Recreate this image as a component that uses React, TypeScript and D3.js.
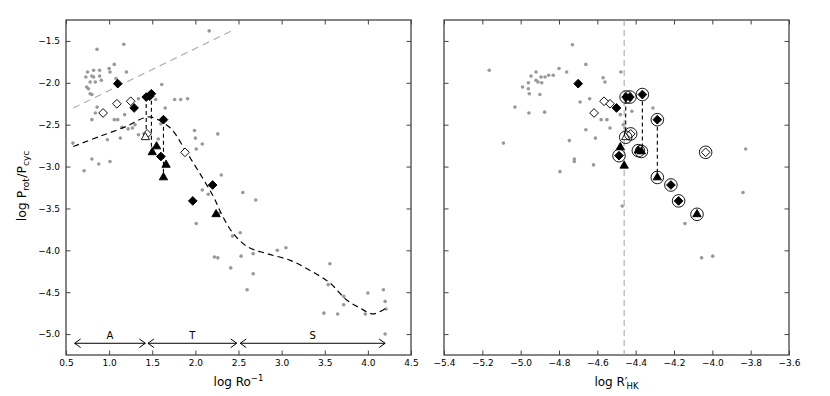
import { useEffect, useRef } from "react";
import * as d3 from "d3";

// grey background sample, left panel: [log Ro^-1, log Prot/Pcyc]
const bgLeft: [number, number][] = [
  [2.16, -1.38], [0.86, -1.6], [1.17, -1.54], [1.06, -1.78], [1.0, -1.83], [1.01, -1.87], [1.2, -1.87],
  [0.89, -1.85], [0.82, -1.85], [0.75, -1.87], [0.73, -1.93], [0.8, -1.92], [0.82, -1.93], [0.89, -1.92],
  [0.78, -1.99], [0.84, -1.99], [0.91, -1.97], [0.74, -2.05], [0.76, -2.07], [0.78, -2.13], [0.8, -2.14],
  [1.08, -1.95], [1.61, -2.02], [1.76, -2.2], [1.83, -2.2], [1.91, -2.19], [1.65, -2.3], [0.86, -2.29],
  [0.84, -2.36], [0.8, -2.44], [1.06, -2.44], [1.1, -2.44], [1.18, -2.38], [1.34, -2.19], [1.15, -2.53],
  [1.22, -2.55], [1.27, -2.54], [1.3, -2.5], [1.34, -2.62], [1.13, -2.66], [0.98, -2.68], [1.57, -2.67],
  [1.6, -2.49], [0.58, -2.72], [0.71, -3.05], [0.8, -2.91], [0.88, -2.97], [1.01, -2.94], [1.99, -2.57],
  [2.0, -2.66], [2.01, -2.79], [2.08, -2.73], [2.26, -2.61], [2.3, -3.1], [2.08, -3.28], [2.15, -3.33],
  [2.55, -3.31], [2.7, -3.4], [2.01, -3.68], [2.27, -3.56], [2.43, -3.83], [2.52, -3.79], [2.22, -4.08],
  [2.26, -4.09], [2.53, -4.07], [2.67, -4.04], [2.41, -4.21], [2.67, -4.28], [2.6, -4.47], [2.95, -4.0],
  [3.05, -3.97], [3.56, -4.16], [3.54, -4.41], [3.49, -4.75], [3.65, -4.76], [3.72, -4.55], [3.72, -4.65],
  [4.0, -4.51], [3.97, -4.76], [4.18, -4.47], [4.2, -4.61], [4.21, -4.7], [4.2, -5.0], [1.54, -2.2],
];

// grey background sample, right panel: [log R'HK, log Prot/Pcyc]
const bgRight: [number, number][] = [
  [-5.164, -1.85], [-4.73, -1.545], [-4.66, -1.78], [-4.8, -1.83], [-4.76, -1.87], [-4.854, -1.91],
  [-4.83, -1.91], [-4.873, -1.93], [-4.894, -1.93], [-4.92, -1.87], [-4.946, -1.92], [-4.92, -1.97],
  [-4.91, -1.99], [-4.89, -2.0], [-4.96, -2.0], [-4.99, -2.05], [-4.96, -2.07], [-4.955, -2.13],
  [-4.9, -2.14], [-4.69, -2.23], [-4.64, -2.19], [-4.57, -1.94], [-4.56, -1.99], [-4.477, -1.87],
  [-5.03, -2.29], [-4.957, -2.36], [-4.875, -2.35], [-4.58, -2.44], [-4.55, -2.44], [-4.534, -2.54],
  [-4.66, -2.56], [-4.61, -2.66], [-4.746, -2.69], [-5.09, -2.72], [-4.72, -2.91], [-4.72, -2.94],
  [-4.62, -2.98], [-4.795, -3.06], [-4.48, -2.38], [-4.42, -2.34], [-4.465, -2.5], [-4.456, -2.54],
  [-4.31, -2.3], [-3.826, -2.79], [-3.84, -3.31], [-4.47, -3.47], [-4.143, -3.68], [-4.056, -4.09],
  [-3.998, -4.07],
];

// filled diamonds
const diamLeft: [number, number][] = [
  [1.1, -2.01], [1.29, -2.3], [1.43, -2.17], [1.49, -2.13], [1.47, -2.16], [1.63, -2.44], [1.6, -2.88],
  [2.2, -3.22], [1.97, -3.41],
];
const diamRight: [number, number][] = [
  [-4.7, -2.01], [-4.5, -2.3], [-4.45, -2.17], [-4.43, -2.17], [-4.365, -2.14], [-4.287, -2.44],
  [-4.487, -2.87], [-4.216, -3.22], [-4.176, -3.41],
];

// open diamonds
const openLeft: [number, number][] = [[0.93, -2.36], [1.09, -2.25], [1.25, -2.22], [1.44, -2.61], [1.88, -2.83]];
const openRight: [number, number][] = [
  [-4.617, -2.36], [-4.534, -2.25], [-4.565, -2.22], [-4.426, -2.61], [-4.035, -2.83],
];

// filled / open triangles
const triLeft: [number, number][] = [[1.5, -2.83], [1.55, -2.76], [1.66, -2.98], [1.63, -3.13], [2.24, -3.57]];
const triRight: [number, number][] = [
  [-4.48, -2.77], [-4.46, -2.99], [-4.386, -2.81], [-4.37, -2.82], [-4.287, -3.13], [-4.08, -3.57],
];
const openTriLeft: [number, number][] = [[1.42, -2.65]];
const openTriRight: [number, number][] = [[-4.452, -2.65]];

// circled stars (right panel only)
const ringRight: [number, number][] = [
  [-4.45, -2.17], [-4.43, -2.17], [-4.365, -2.14], [-4.287, -2.44], [-4.487, -2.87], [-4.216, -3.22],
  [-4.176, -3.41], [-4.386, -2.81], [-4.37, -2.82], [-4.287, -3.13], [-4.08, -3.57], [-4.426, -2.61],
  [-4.035, -2.83], [-4.452, -2.65],
];

// same star, several cycles: [x, yTop, yBottom]
const linksLeft: [number, number, number][] = [[1.43, -2.17, -2.62], [1.49, -2.13, -2.83], [1.63, -2.44, -3.13]];
const linksRight: [number, number, number][] = [
  [-4.452, -2.2, -2.62], [-4.365, -2.14, -2.81], [-4.287, -2.44, -3.13],
];

// dashed fit through the sample (left)
const fitLeft: [number, number][] = [
  [0.585, -2.76], [0.89, -2.64], [1.2, -2.52], [1.4, -2.42], [1.49, -2.41], [1.71, -2.54], [1.88, -2.8],
  [2.05, -3.08], [2.21, -3.36], [2.31, -3.58], [2.44, -3.8], [2.61, -3.96], [2.83, -4.04], [3.1, -4.12],
  [3.33, -4.24], [3.56, -4.39], [3.75, -4.59], [3.91, -4.69], [4.06, -4.76], [4.21, -4.69],
];
const greyLine: [number, number][] = [[0.585, -2.3], [2.46, -1.36]];
const rhkCut = -4.46;

// branches
const branchNames = ["A", "T", "S"];
const branchFrom = [0.6, 1.45, 2.52];
const branchTo = [1.42, 2.48, 4.2];
const branchY = -5.11;

const FONT = "DejaVu Sans";

const App = () => {
  const svgRef = useRef<SVGSVGElement>(null);

  useEffect(() => {
    const svg = d3.select(svgRef.current);
    svg.selectAll("*").remove();

    const y = d3.scaleLinear().domain([-5.25, -1.25]).range([355, 20]);
    const xL = d3.scaleLinear().domain([0.5, 4.5]).range([66, 411]);
    const xR = d3.scaleLinear().domain([-5.4, -3.6]).range([444, 789]);
    const yTicks = d3.range(-5.0, -1.49, 0.5);

    const panel = (x: d3.ScaleLinear<number, number>, xTicks: number[], yLabels: boolean) => {
      const g = svg.append("g");
      const [x0, x1] = x.range();
      const fmt = d3.format(".1f");
      const ax = (a: any, t: string) => {
        const s = g.append("g").attr("transform", t).call(a);
        s.select(".domain").remove();
        s.selectAll("line").attr("stroke", "#444").attr("stroke-width", 1);
        s.selectAll("text").attr("font-family", FONT).attr("font-size", 9).attr("fill", "#000");
        return s;
      };
      ax(d3.axisBottom(x).tickValues(xTicks).tickFormat((d: any) => fmt(d)).tickSize(-4.5).tickPadding(5), "translate(0,355)");
      ax(d3.axisTop(x).tickValues(xTicks).tickFormat(() => "").tickSize(-4.5), "translate(0,20)");
      ax(d3.axisLeft(y).tickValues(yTicks).tickFormat((d: any) => (yLabels ? fmt(d) : "")).tickSize(-4.5).tickPadding(6), `translate(${x0},0)`);
      ax(d3.axisRight(y).tickValues(yTicks).tickFormat(() => "").tickSize(-4.5), `translate(${x1},0)`);
      g.append("rect")
        .attr("x", x0).attr("y", 20).attr("width", x1 - x0).attr("height", 335)
        .attr("fill", "none").attr("stroke", "#444").attr("stroke-width", 1.3);
      return g;
    };

    const dots = (g: any, x: any, data: [number, number][]) =>
      g.append("g").selectAll("circle").data(data).join("circle")
        .attr("cx", (d: any) => x(d[0])).attr("cy", (d: any) => y(d[1]))
        .attr("r", 1.8).attr("fill", "#999");

    const marks = (g: any, x: any, data: [number, number][], type: any, size: number, fill: string, rot = 0) =>
      g.append("g").selectAll("path").data(data).join("path")
        .attr("d", d3.symbol(type, size)())
        .attr("transform", (d: any) => `translate(${x(d[0])},${y(d[1])}) rotate(${rot})`)
        .attr("fill", fill).attr("stroke", "#000").attr("stroke-width", 0.9);

    const links = (g: any, x: any, data: [number, number, number][]) =>
      g.append("g").selectAll("line").data(data).join("line")
        .attr("x1", (d: any) => x(d[0])).attr("x2", (d: any) => x(d[0]))
        .attr("y1", (d: any) => y(d[1])).attr("y2", (d: any) => y(d[2]))
        .attr("stroke", "#000").attr("stroke-width", 1.1).attr("stroke-dasharray", "4,3");

    // ---- left panel
    const gl = panel(xL, d3.range(0.5, 4.51, 0.5), true);
    dots(gl, xL, bgLeft);
    const line = d3.line<[number, number]>().x(d => xL(d[0])).y(d => y(d[1]));
    gl.append("path").attr("d", line(greyLine)).attr("fill", "none")
      .attr("stroke", "#aaa").attr("stroke-width", 1.1).attr("stroke-dasharray", "7,5");
    gl.append("path").attr("d", line.curve(d3.curveCatmullRom)(fitLeft)).attr("fill", "none")
      .attr("stroke", "#000").attr("stroke-width", 1.2).attr("stroke-dasharray", "6,4");
    links(gl, xL, linksLeft);
    marks(gl, xL, openLeft, d3.symbolSquare, 38, "#fff", 45);
    marks(gl, xL, openTriLeft, d3.symbolTriangle, 30, "#fff");
    marks(gl, xL, triLeft, d3.symbolTriangle, 30, "#000");
    marks(gl, xL, diamLeft, d3.symbolSquare, 38, "#000", 45);

    // branch arrows
    const by = y(branchY);
    branchNames.forEach((name, i) => {
      const a = xL(branchFrom[i]);
      const b = xL(branchTo[i]);
      gl.append("line").attr("x1", a).attr("x2", b).attr("y1", by).attr("y2", by)
        .attr("stroke", "#000").attr("stroke-width", 1);
      gl.append("path").attr("d", `M${a + 6},${by - 4.3}L${a},${by}L${a + 6},${by + 4.3}M${b - 6},${by - 4.3}L${b},${by}L${b - 6},${by + 4.3}`)
        .attr("fill", "none").attr("stroke", "#000").attr("stroke-width", 1);
      gl.append("text").attr("x", (a + b) / 2).attr("y", by - 4.5).attr("text-anchor", "middle")
        .attr("font-family", FONT).attr("font-size", 10).text(name);
    });

    // ---- right panel
    const gr = panel(xR, d3.range(-5.4, -3.59, 0.2), false);
    dots(gr, xR, bgRight);
    gr.append("line").attr("x1", xR(rhkCut)).attr("x2", xR(rhkCut)).attr("y1", 20).attr("y2", 355)
      .attr("stroke", "#aaa").attr("stroke-width", 1.1).attr("stroke-dasharray", "6,4");
    links(gr, xR, linksRight);
    marks(gr, xR, openRight, d3.symbolSquare, 38, "#fff", 45);
    marks(gr, xR, openTriRight, d3.symbolTriangle, 30, "#fff");
    marks(gr, xR, triRight, d3.symbolTriangle, 30, "#000");
    marks(gr, xR, diamRight, d3.symbolSquare, 38, "#000", 45);
    gr.append("g").selectAll("circle").data(ringRight).join("circle")
      .attr("cx", d => xR(d[0])).attr("cy", d => y(d[1])).attr("r", 6.3)
      .attr("fill", "none").attr("stroke", "#000").attr("stroke-width", 0.9);

    // ---- axis labels
    const xl = svg.append("text").attr("x", 238.5).attr("y", 386).attr("text-anchor", "middle")
      .attr("font-family", FONT).attr("font-size", 12);
    xl.append("tspan").text("log Ro");
    xl.append("tspan").attr("font-size", 8.5).attr("dy", -5).text("\u22121");

    const xr = svg.append("text").attr("x", 616.5).attr("y", 386).attr("text-anchor", "middle")
      .attr("font-family", FONT).attr("font-size", 12);
    xr.append("tspan").text("log R\u2032");
    xr.append("tspan").attr("font-size", 8.5).attr("dy", 3).attr("dx", -1).text("HK");

    const yl = svg.append("text").attr("transform", "translate(26,186) rotate(-90)").attr("text-anchor", "middle")
      .attr("font-family", FONT).attr("font-size", 12.5);
    yl.append("tspan").text("log");
    yl.append("tspan").attr("dx", 4).text("P");
    yl.append("tspan").attr("font-size", 9).attr("dy", 3).text("rot");
    yl.append("tspan").attr("dy", -3).attr("dx", 0.5).text("/P");
    yl.append("tspan").attr("font-size", 9).attr("dy", 3).text("cyc");
  }, []);

  return (
    <svg
      ref={svgRef}
      width={830}
      height={396}
      style={{ position: "absolute", left: 0, top: 0, background: "#fff" }}
    />
  );
};

export default App;
